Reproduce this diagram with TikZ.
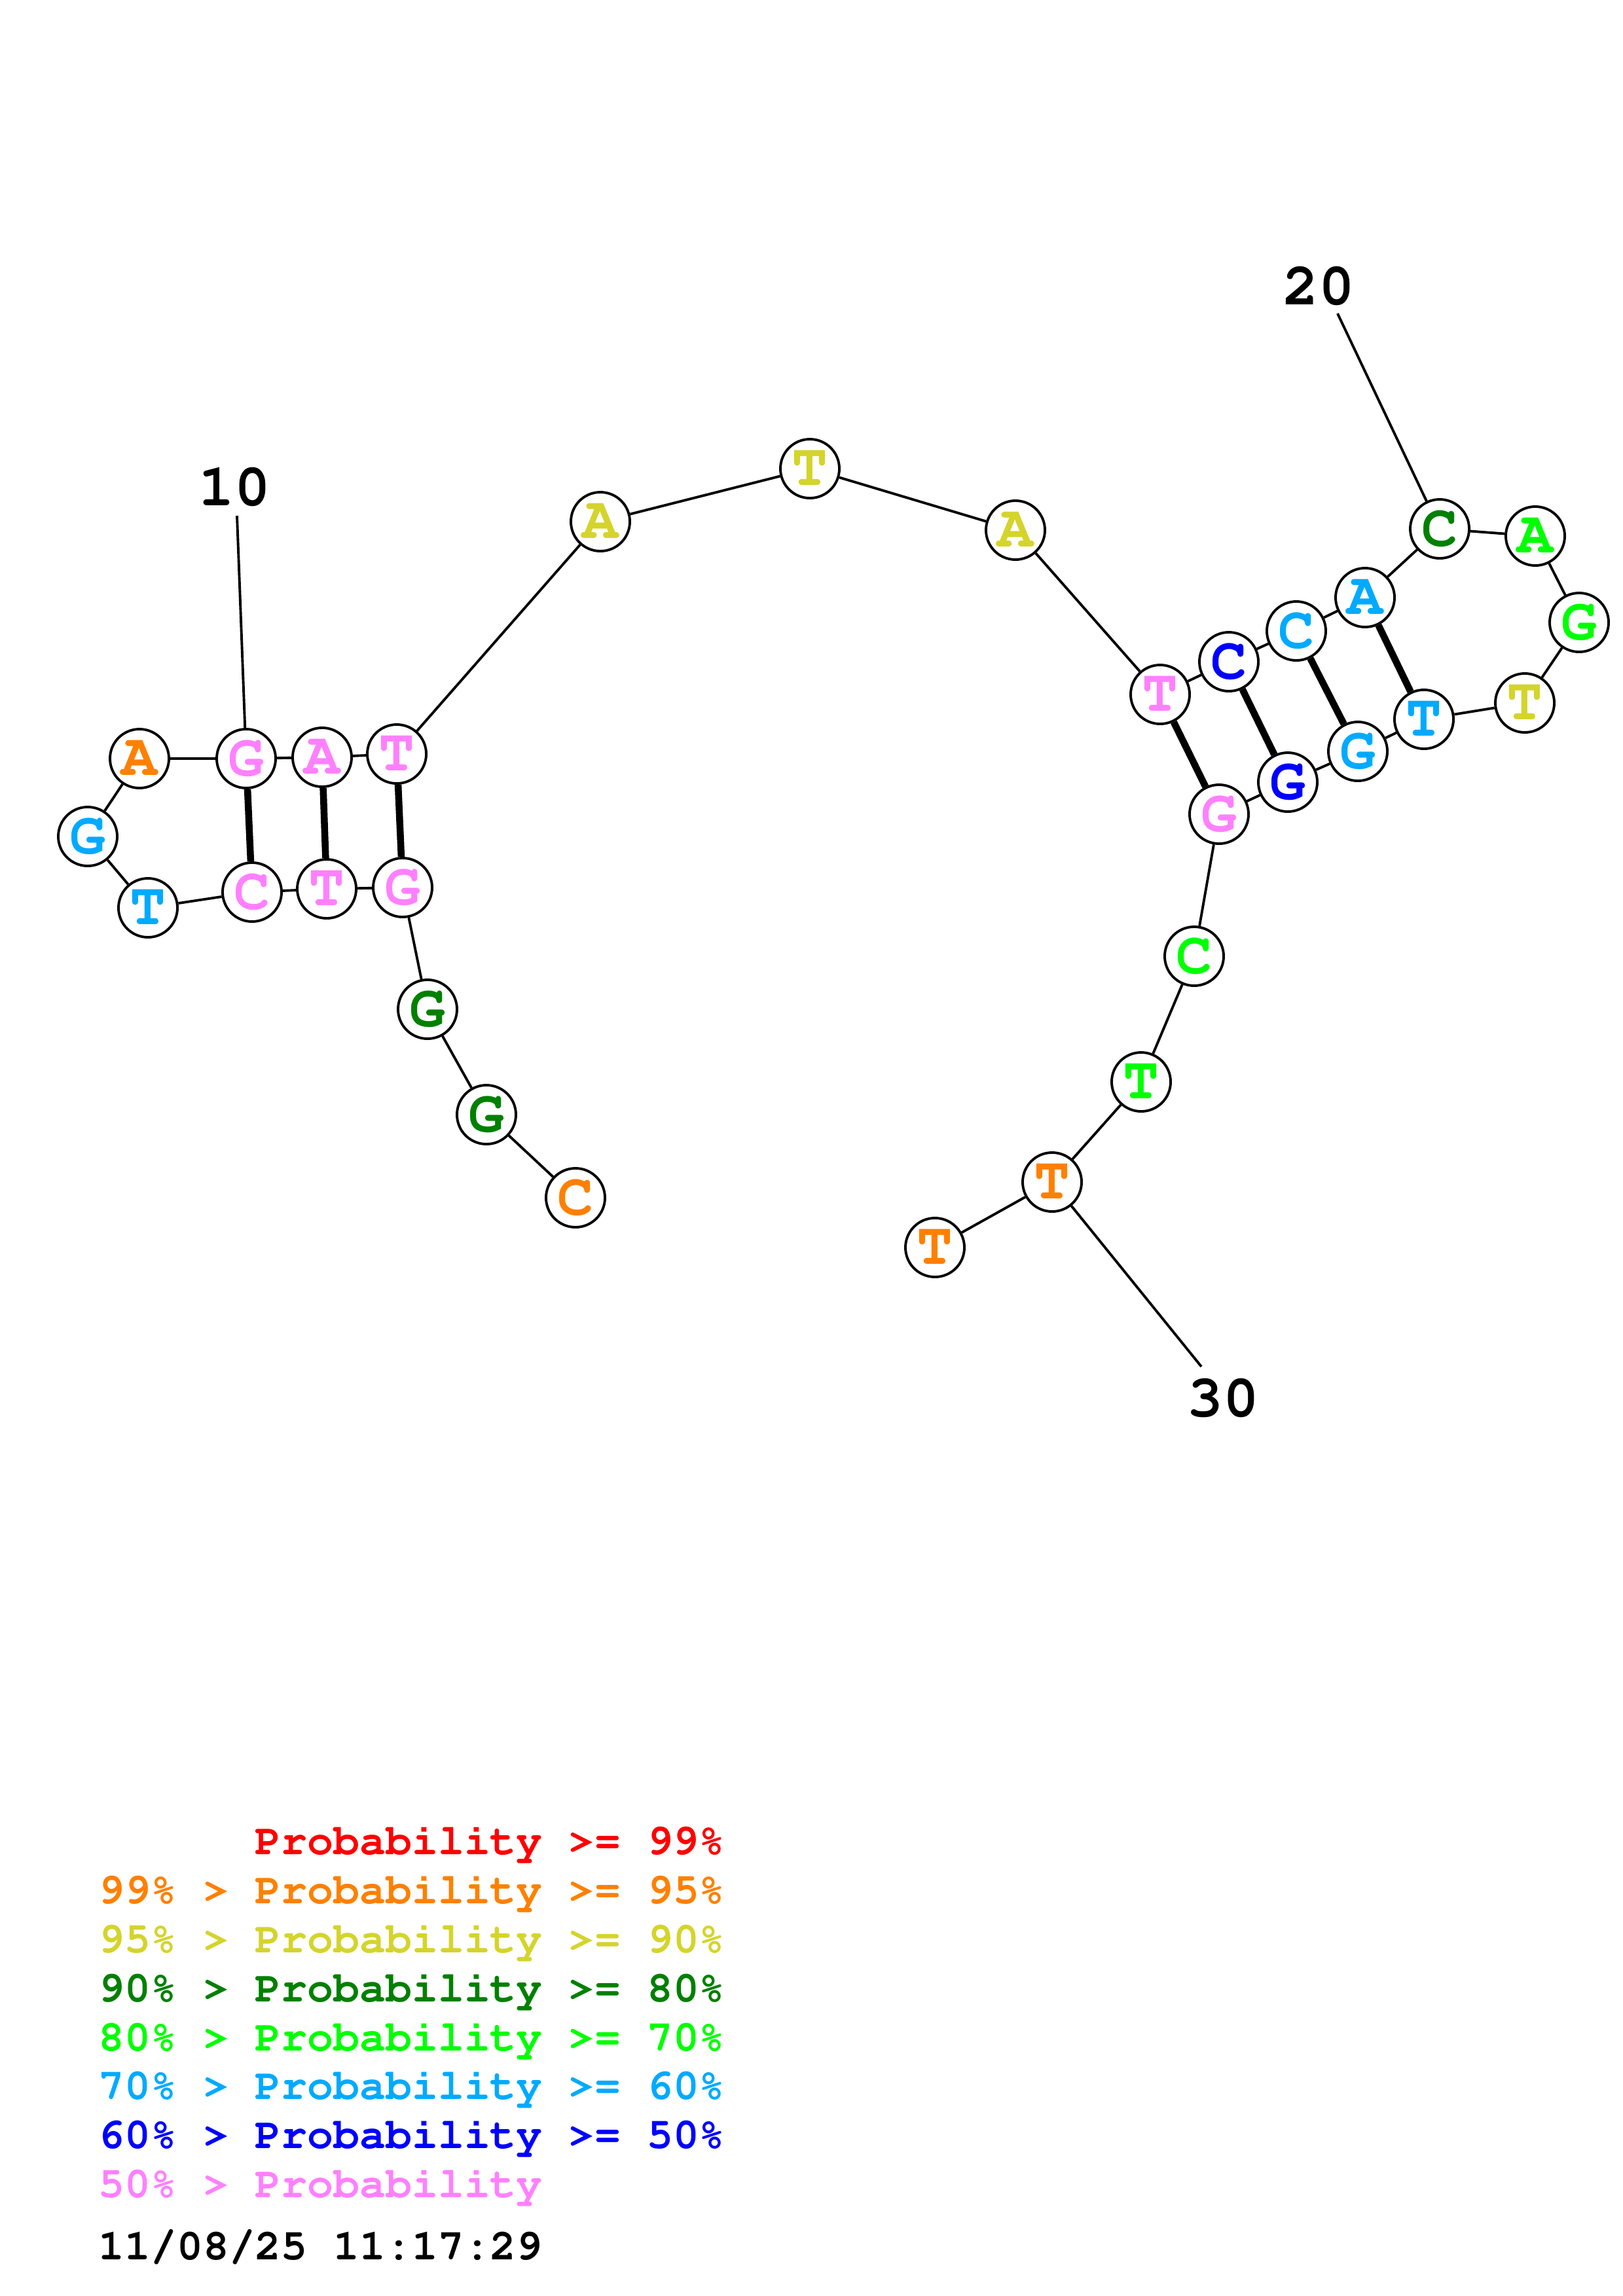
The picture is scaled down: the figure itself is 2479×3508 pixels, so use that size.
\documentclass[tikz,border=0pt]{standalone}
\usepackage[T1]{fontenc}
\usepackage{courier}
\usepackage{tikz}
\definecolor{pred}{HTML}{FF0000}
\definecolor{porange}{HTML}{FF8000}
\definecolor{pyellow}{HTML}{D4D42C}
\definecolor{pdkgreen}{HTML}{008000}
\definecolor{pgreen}{HTML}{00FF00}
\definecolor{pltblue}{HTML}{00AAFF}
\definecolor{pblue}{HTML}{0000FF}
\definecolor{ppink}{HTML}{FF80FF}
\tikzset{
  nt/.style={circle,draw=black,fill=white,line width=1.1pt,minimum size=0.9cm,inner sep=0pt,font=\fontsize{26}{26}\selectfont\ttfamily\bfseries},
  bb/.style={line width=1.1pt},
  bp/.style={line width=3pt},
  num/.style={inner sep=0pt,font=\fontsize{26}{26}\selectfont\ttfamily\bfseries},
  leg/.style={anchor=base west,inner sep=0pt,font=\fontsize{18.9}{20}\selectfont\ttfamily\bfseries},
}
\begin{document}
\begin{tikzpicture}[x=0.01cm,y=-0.01cm]
\useasboundingbox (0,0) rectangle (2479,3508);
% bases, 5' to 3'
\node[nt,text=porange] (n1) at (879,1830) {C};
\node[nt,text=pdkgreen] (n2) at (743,1703) {G};
\node[nt,text=pdkgreen] (n3) at (653,1542) {G};
\node[nt,text=ppink] (n4) at (615,1356) {G};
\node[nt,text=ppink] (n5) at (499,1358) {T};
\node[nt,text=ppink] (n6) at (385,1363) {C};
\node[nt,text=pltblue] (n7) at (226,1387) {T};
\node[nt,text=pltblue] (n8) at (134,1278) {G};
\node[nt,text=porange] (n9) at (213,1159) {A};
\node[nt,text=ppink] (n10) at (376,1159) {G};
\node[nt,text=ppink] (n11) at (492,1157) {A};
\node[nt,text=ppink] (n12) at (606,1152) {T};
\node[nt,text=pyellow] (n13) at (917,797) {A};
\node[nt,text=pyellow] (n14) at (1237,716) {T};
\node[nt,text=pyellow] (n15) at (1551,810) {A};
\node[nt,text=ppink] (n16) at (1772,1061) {T};
\node[nt,text=pblue] (n17) at (1877,1011) {C};
\node[nt,text=pltblue] (n18) at (1980,964) {C};
\node[nt,text=pltblue] (n19) at (2085,913) {A};
\node[nt,text=pdkgreen] (n20) at (2199,808) {C};
\node[nt,text=pgreen] (n21) at (2345,819) {A};
\node[nt,text=pgreen] (n22) at (2412,951) {G};
\node[nt,text=pyellow] (n23) at (2329,1074) {T};
\node[nt,text=pltblue] (n24) at (2175,1099) {T};
\node[nt,text=pltblue] (n25) at (2074,1148) {G};
\node[nt,text=pblue] (n26) at (1967,1195) {G};
\node[nt,text=ppink] (n27) at (1862,1244) {G};
\node[nt,text=pgreen] (n28) at (1824,1461) {C};
\node[nt,text=pgreen] (n29) at (1743,1653) {T};
\node[nt,text=porange] (n30) at (1607,1806) {T};
\node[nt,text=porange] (n31) at (1428,1906) {T};
% numbering
\node[num] (lab10) at (358,745) {10};
\node[num] (lab20) at (2014,438) {20};
\node[num] (lab30) at (1868,2137) {30};
\coordinate (t10) at (362,788);
\coordinate (t20) at (2043,479);
\coordinate (t30) at (1835,2088);
% backbone
\draw[bb] (n1)--(n2);\draw[bb] (n2)--(n3);\draw[bb] (n3)--(n4);\draw[bb] (n4)--(n5);\draw[bb] (n5)--(n6);\draw[bb] (n6)--(n7);\draw[bb] (n7)--(n8);\draw[bb] (n8)--(n9);\draw[bb] (n9)--(n10);\draw[bb] (n10)--(n11);
\draw[bb] (n11)--(n12);\draw[bb] (n12)--(n13);\draw[bb] (n13)--(n14);\draw[bb] (n14)--(n15);\draw[bb] (n15)--(n16);\draw[bb] (n16)--(n17);\draw[bb] (n17)--(n18);\draw[bb] (n18)--(n19);\draw[bb] (n19)--(n20);\draw[bb] (n20)--(n21);
\draw[bb] (n21)--(n22);\draw[bb] (n22)--(n23);\draw[bb] (n23)--(n24);\draw[bb] (n24)--(n25);\draw[bb] (n25)--(n26);\draw[bb] (n26)--(n27);\draw[bb] (n27)--(n28);\draw[bb] (n28)--(n29);\draw[bb] (n29)--(n30);\draw[bb] (n30)--(n31);
% pairs
\draw[bp] (n10)--(n6);\draw[bp] (n11)--(n5);\draw[bp] (n12)--(n4);
\draw[bp] (n16)--(n27);\draw[bp] (n17)--(n26);\draw[bp] (n18)--(n25);\draw[bp] (n19)--(n24);
% ticks
\draw[bb] (t10)--(n10);\draw[bb] (t20)--(n20);\draw[bb] (n30)--(t30);
% legend
\node[leg,text=pred] (leg1) at (150,2833) {\hphantom{99\% > }Probability >= 99\%};
\node[leg,text=porange] (leg2) at (150,2908) {99\% > Probability >= 95\%};
\node[leg,text=pyellow] (leg3) at (150,2983) {95\% > Probability >= 90\%};
\node[leg,text=pdkgreen] (leg4) at (150,3058) {90\% > Probability >= 80\%};
\node[leg,text=pgreen] (leg5) at (150,3133) {80\% > Probability >= 70\%};
\node[leg,text=pltblue] (leg6) at (150,3207) {70\% > Probability >= 60\%};
\node[leg,text=pblue] (leg7) at (150,3282) {60\% > Probability >= 50\%};
\node[leg,text=ppink] (leg8) at (150,3357) {50\% > Probability};
\node[leg,text=black] (date) at (150,3452) {11/08/25 11:17:29};
\end{tikzpicture}
\end{document}
